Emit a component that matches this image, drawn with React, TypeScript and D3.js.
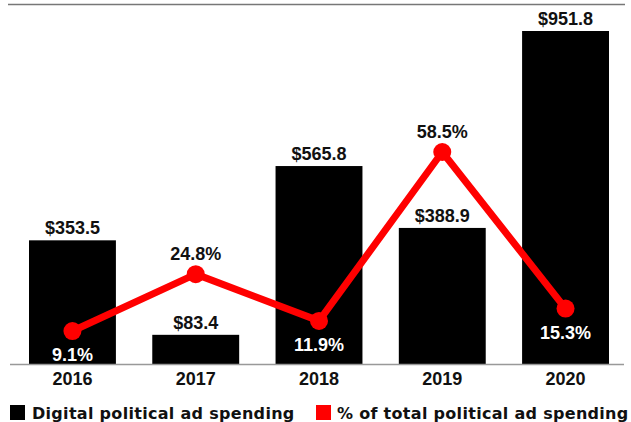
import React from "react";
import * as d3 from "d3";

const years = ["2016", "2017", "2018", "2019", "2020"];
const spending = [353.5, 83.4, 565.8, 388.9, 951.8];
const share = [9.1, 24.8, 11.9, 58.5, 15.3];
const shareBelow = [true, false, true, false, true];
const legendLabels = ["Digital political ad spending", "% of total political ad spending"];

const W = 631, H = 422;
const FONT = "'Liberation Sans', Arial, sans-serif";
const LFONT = "'DejaVu Sans', Verdana, sans-serif";

export default function App() {
  const x = d3.scaleBand<string>().domain(years).range([29, 609]).paddingInner(0.295).paddingOuter(0);
  const yBar = d3.scaleLinear().domain([0, 951.8]).range([364, 31]);
  const yPct = d3.scaleLinear().domain([0, 58.5]).range([364, 152]);
  const cx = (i: number) => (x(years[i]) as number) + x.bandwidth() / 2;
  const line = d3.line<number>().x((_, i) => cx(i)).y((d) => yPct(d));

  return (
    <svg width={W} height={H} style={{ position: "absolute", left: 0, top: 0, background: "#fff" }}>
      <line x1={8} x2={625} y1={4.5} y2={4.5} stroke="#777" strokeWidth={1.5} />
      {spending.map((v, i) => (
        <g key={years[i]}>
          <rect x={x(years[i])} y={yBar(v)} width={x.bandwidth()} height={yBar(0) - yBar(v)} fill="#000" />
          <text x={cx(i)} y={yBar(v) - 6} textAnchor="middle" fontFamily={FONT} fontWeight="bold" fontSize={18} fill="#111">
            {"$" + v.toFixed(1)}
          </text>
          <text x={cx(i)} y={385} textAnchor="middle" fontFamily={FONT} fontWeight="bold" fontSize={18} fill="#111">
            {years[i]}
          </text>
        </g>
      ))}
      <line x1={10} x2={624} y1={364.5} y2={364.5} stroke="#999" strokeWidth={1.5} />
      <path d={line(share) || ""} fill="none" stroke="#f00" strokeWidth={7} strokeLinejoin="round" />
      {share.map((v, i) => (
        <g key={"p" + i}>
          <circle cx={cx(i)} cy={yPct(v)} r={9} fill="#f00" />
          <text
            x={cx(i)}
            y={shareBelow[i] ? yPct(v) + 30 : yPct(v) - 14}
            textAnchor="middle"
            fontFamily={FONT}
            fontWeight="bold"
            fontSize={18}
            fill={shareBelow[i] ? "#fff" : "#111"}
          >
            {v.toFixed(1) + "%"}
          </text>
        </g>
      ))}
      <rect x={10} y={405} width={15} height={15} fill="#000" />
      <text x={32} y={419} fontFamily={LFONT} fontWeight="bold" fontSize={16} letterSpacing={0.3} fill="#111">{legendLabels[0]}</text>
      <rect x={316} y={405} width={15} height={15} fill="#f00" />
      <text x={337} y={419} fontFamily={LFONT} fontWeight="bold" fontSize={16} letterSpacing={0.3} fill="#111">{legendLabels[1]}</text>
    </svg>
  );
}
